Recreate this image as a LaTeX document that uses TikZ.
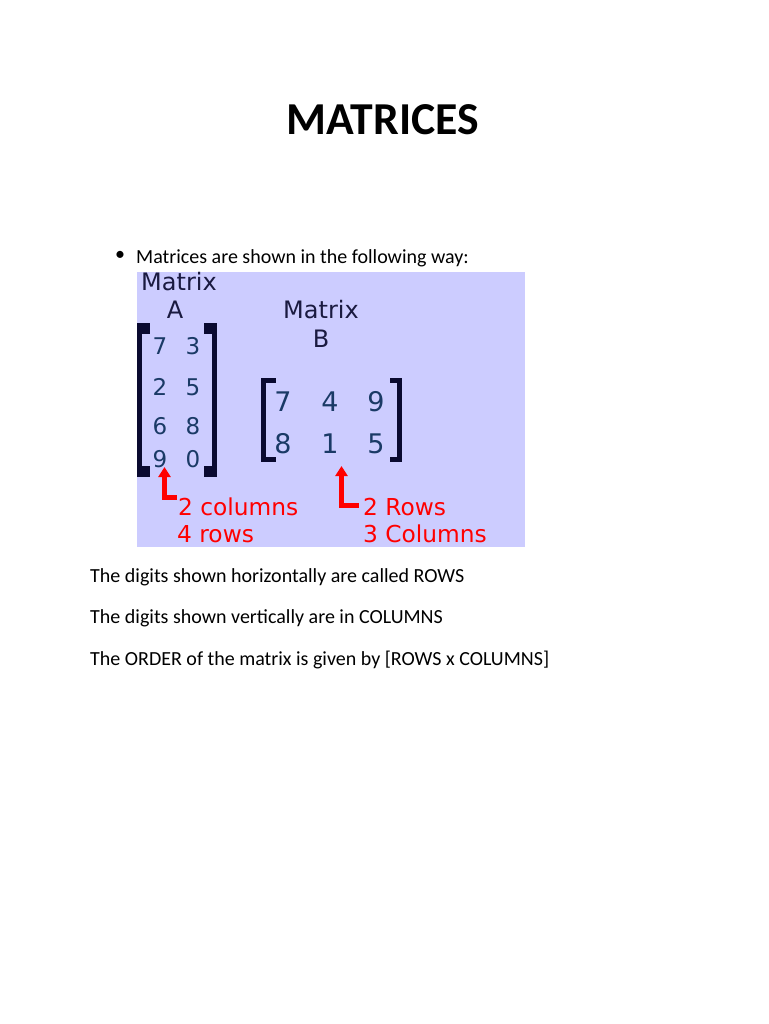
\documentclass[tikz,border=0pt]{standalone}
\usepackage{fontspec}
\setmainfont{Carlito}
\newfontfamily\verd{DejaVu Sans}
\usetikzlibrary{arrows.meta}
\definecolor{boxbg}{HTML}{CCCCFF}
\definecolor{digit}{HTML}{1A3A66}
\definecolor{brk}{HTML}{0A0A30}
\definecolor{lbl}{HTML}{1A1A40}
\definecolor{redc}{HTML}{FF0000}
\tikzset{
  txt/.style={anchor=base west, inner sep=0pt, font=\fontsize{20}{24}\selectfont},
  mlabel/.style={anchor=base, inner sep=0pt, text=lbl, font=\verd\fontsize{24}{28}\selectfont},
  dA/.style={anchor=base, inner sep=0pt, text=digit, font=\verd\fontsize{23}{26}\selectfont},
  dB/.style={anchor=base, inner sep=0pt, text=digit, font=\verd\fontsize{27}{30}\selectfont},
  rtxt/.style={anchor=base west, inner sep=0pt, text=redc, font=\verd\fontsize{23.3}{26}\selectfont},
  rarrow/.style={draw=redc, line width=5pt, -{Triangle[width=12pt,length=10pt]}},
}
\begin{document}
\begin{tikzpicture}[x=1pt,y=-1pt]
\useasboundingbox[fill=white] (0,0) rectangle (768,1024);
% title
\node[anchor=base, inner sep=0pt, font=\bfseries\fontsize{45.7}{52}\selectfont] (title) at (383,135) {MATRICES};
% bullet
\node[anchor=center, inner sep=0pt, font=\fontsize{20}{24}\selectfont] (bul) at (120,256) {\textbullet};
\node[txt] (intro) at (136,263) {Matrices are shown in the following way:};
% box
\fill[boxbg] (137,272) rectangle (525,547);
% labels
\node[mlabel, anchor=base west] (matA) at (141,290) {Matrix};
\node[mlabel] (labA) at (175,318) {A};
\node[mlabel] (matB) at (321,318) {Matrix};
\node[mlabel] (labB) at (321,347) {B};
% matrix A brackets
\fill[brk] (137,323) rectangle (142,477);
\fill[brk] (137,323) rectangle (150,334);
\fill[brk] (137,466) rectangle (150,477);
\fill[brk] (212,323) rectangle (217,477);
\fill[brk] (204,323) rectangle (217,334);
\fill[brk] (204,466) rectangle (217,477);
% matrix A digits
\node[dA] (a11) at (160,354) {7};
\node[dA] (a12) at (193,354) {3};
\node[dA] (a21) at (160,395) {2};
\node[dA] (a22) at (193,395) {5};
\node[dA] (a31) at (160,434) {6};
\node[dA] (a32) at (193,434) {8};
\node[dA] (a41) at (160,467) {9};
\node[dA] (a42) at (193,467) {0};
% matrix B brackets
\fill[brk] (261,378) rectangle (266,462);
\fill[brk] (261,378) rectangle (276,383);
\fill[brk] (261,457) rectangle (276,462);
\fill[brk] (397,378) rectangle (402,462);
\fill[brk] (390,378) rectangle (402,383);
\fill[brk] (390,457) rectangle (402,462);
% matrix B digits
\node[dB] (b11) at (283,411) {7};
\node[dB] (b12) at (330,411) {4};
\node[dB] (b13) at (376,411) {9};
\node[dB] (b21) at (283,453) {8};
\node[dB] (b22) at (330,453) {1};
\node[dB] (b23) at (376,453) {5};
% red labels
\node[rtxt] (cA1) at (178,515) {2 columns};
\node[rtxt] (cA2) at (177,542) {4 rows};
\node[rtxt] (cB1) at (363,515) {2 Rows};
\node[rtxt] (cB2) at (363,542) {3 Columns};
% red arrows
\coordinate (tipA) at (164.5,467);
\coordinate (tipB) at (341.5,466);
\coordinate (cornA) at (164.5,497.5);
\coordinate (cornB) at (341.5,505.5);
\coordinate (endA) at (177,497.5);
\coordinate (endB) at (359,505.5);
\draw[rarrow] (endA) -- (cornA) -- (tipA);
\draw[rarrow] (endB) -- (cornB) -- (tipB);
% bottom text
\node[txt] (l1) at (90,582) {The digits shown horizontally are called ROWS};
\node[txt] (l2) at (90,623) {The digits shown vertically are in COLUMNS};
\node[txt] (l3) at (90,665) {The ORDER of the matrix is given by [ROWS x COLUMNS]};
\end{tikzpicture}
\end{document}
